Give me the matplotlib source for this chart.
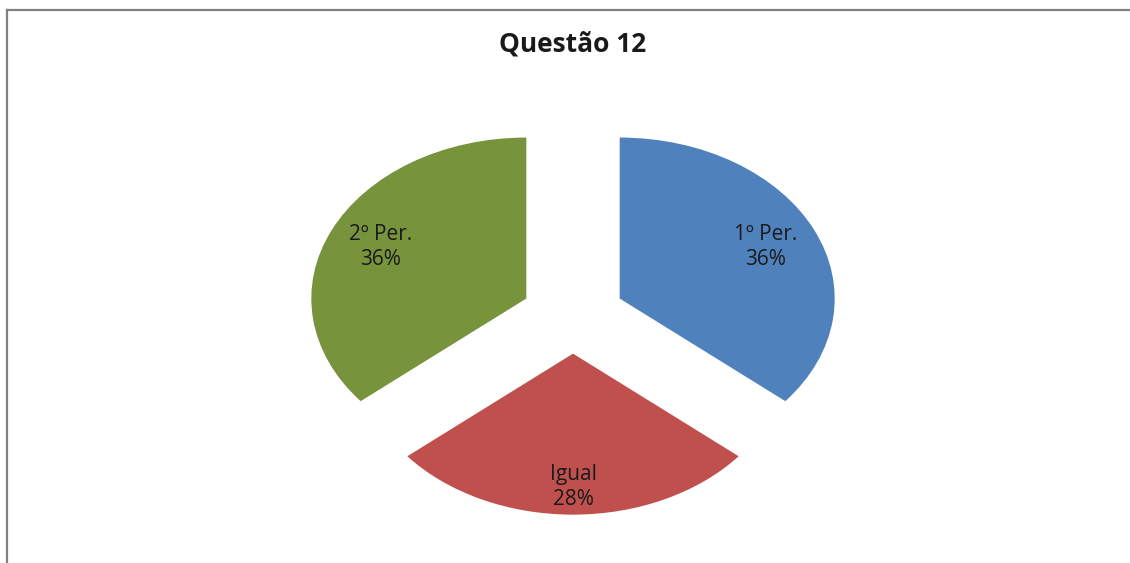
import matplotlib.pyplot as plt
from matplotlib.lines import Line2D

categories = ['1º Per.', 'Igual', '2º Per.']
values = [36, 28, 36]
colors = ['#4F81BD', '#C0504D', '#77933C']
explode = [0.24, 0.24, 0.24]

plt.rcParams['font.family'] = ['Open Sans', 'DejaVu Sans']

fig = plt.figure(figsize=(11.3, 5.63), dpi=100)
ax = fig.add_axes([0, 0, 1, 1])

names = iter(categories)


def label_pct(pct):
    return '{}\n{:.0f}%'.format(next(names), pct)


wedges, texts, autotexts = ax.pie(
    values, colors=colors, explode=explode, startangle=90,
    counterclock=False, autopct=label_pct, pctdistance=0.75,
    textprops={'fontsize': 15, 'color': '#1a1a1a', 'linespacing': 1.25})

# bottom slice label sits a little further out
x, y = autotexts[1].get_position()
autotexts[1].set_position((x, y - 0.08))

# stretched pie: wider than tall
ax.set_aspect('auto')
ax.set_xlim(-573 / 215, (1130 - 573) / 215)
ax.set_ylim(-248 / 161, (563 - 248) / 161)
ax.axis('off')

fig.text(573 / 1130, 1 - 44 / 563, 'Questão 12', ha='center', va='center',
         fontsize=19, fontweight='bold', color='#1a1a1a')

# chart frame (top and left edges)
fig.add_artist(Line2D([7 / 1130, 1], [1 - 9.5 / 563, 1 - 9.5 / 563],
                      transform=fig.transFigure, color='#808080', lw=1.6))
fig.add_artist(Line2D([7 / 1130, 7 / 1130], [0, 1 - 9.5 / 563],
                      transform=fig.transFigure, color='#808080', lw=1.6))

fig.savefig('out.png', dpi=100)
